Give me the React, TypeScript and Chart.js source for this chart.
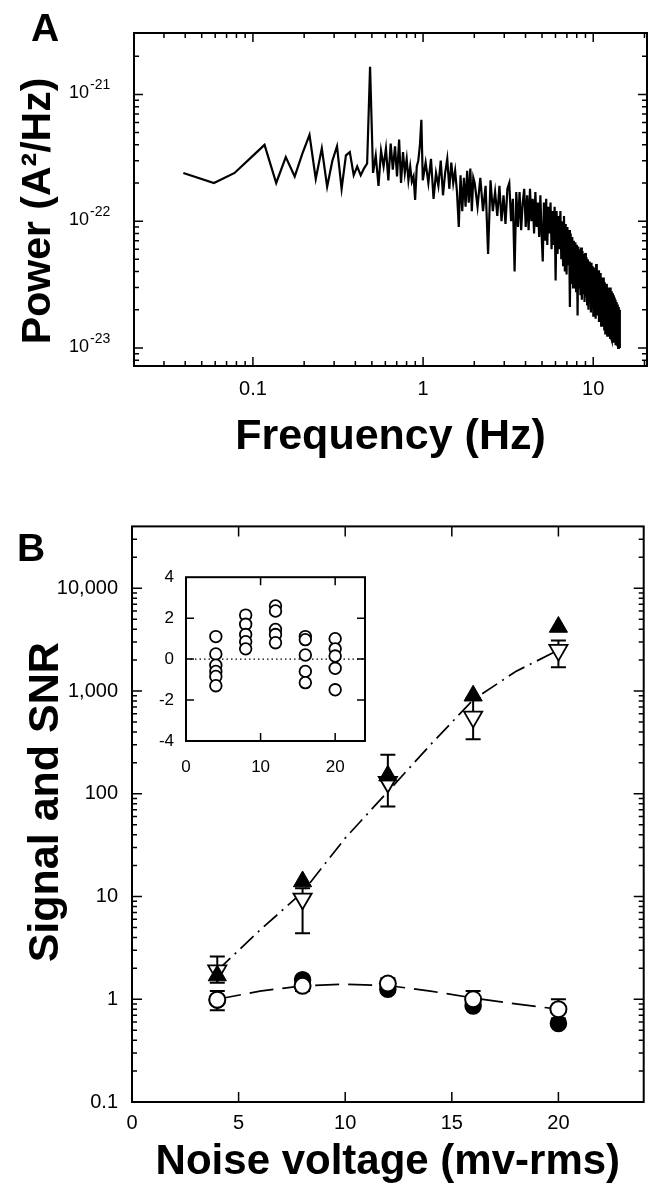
import React, { useEffect, useRef } from 'react';
import { Chart, registerables } from 'chart.js';

Chart.register(...registerables);

const FONT = "'Liberation Sans', Arial, Helvetica, sans-serif";
Chart.defaults.font.family = FONT;
Chart.defaults.color = '#000';

// ---------------- Panel A: power spectrum ----------------
const FREQ_LOW = [
  0.039, 0.059, 0.078, 0.098, 0.117, 0.137, 0.156, 0.176, 0.195, 0.215,
  0.234, 0.254, 0.273, 0.293, 0.312, 0.332, 0.352, 0.371, 0.391, 0.41,
  0.43, 0.449, 0.469, 0.488, 0.508, 0.527, 0.547, 0.566, 0.586, 0.605,
  0.625, 0.645, 0.664, 0.684, 0.703, 0.723, 0.742, 0.762, 0.781, 0.801,
  0.82, 0.84, 0.859, 0.879, 0.898, 0.918, 0.937, 0.957, 0.977, 0.996,
];
const POWER_LOW = [
  24e-23, 20e-23, 24e-23, 32e-23, 40e-23, 20e-23, 32e-23, 22.5e-23, 34e-23, 48e-23,
  21.5e-23, 37.5e-23, 18.7e-23, 30e-23, 39e-23, 18e-23, 33e-23, 35e-23, 23e-23, 27e-23,
  23e-23, 26e-23, 28.5e-23, 165e-23, 24e-23, 33e-23, 19e-23, 36e-23, 27e-23, 37.5e-23,
  21e-23, 41e-23, 25.5e-23, 39e-23, 22.5e-23, 44e-23, 20e-23, 35e-23, 24e-23, 31e-23,
  21e-23, 27e-23, 20.5e-23, 22.5e-23, 14.7e-23, 27e-23, 30e-23, 39e-23, 63e-23, 21e-23,
];
const FREQ_MID = [
  1.035, 1.074, 1.113, 1.152, 1.191, 1.23, 1.27, 1.309, 1.348, 1.387,
  1.426, 1.465, 1.504, 1.543, 1.582, 1.621, 1.66, 1.699, 1.738, 1.777,
  1.816, 1.855, 1.895, 1.934, 1.973,
];
const POWER_MID = [
  29e-23, 20e-23, 31e-23, 15e-23, 24e-23, 19e-23, 30e-23, 16e-23, 24e-23, 31e-23,
  18e-23, 29e-23, 20e-23, 25e-23, 17e-23, 9e-23, 23e-23, 12e-23, 22e-23, 13e-23,
  25e-23, 14e-23, 26e-23, 12e-23, 22e-23,
];
const FREQ_HIGH = [
  2.01, 2.09, 2.17, 2.25, 2.33, 2.41, 2.49, 2.57, 2.65, 2.73,
  2.81, 2.89, 2.97, 3.05, 3.13, 3.21, 3.29, 3.37, 3.45, 3.53,
  3.61, 3.69, 3.77, 3.85, 3.93, 4.01, 4.09, 4.17, 4.25, 4.33,
  4.41, 4.49, 4.57, 4.65, 4.73, 4.81, 4.89, 4.97, 5.05, 5.13,
  5.21, 5.29, 5.37, 5.45, 5.53, 5.61, 5.69, 5.77, 5.85, 5.93,
  6.01, 6.09, 6.17, 6.25, 6.33, 6.41, 6.49, 6.57, 6.65, 6.73,
  6.81, 6.89, 6.97, 7.05, 7.13, 7.21, 7.29, 7.37, 7.45, 7.53,
  7.61, 7.69, 7.77, 7.85, 7.93, 8.01, 8.09, 8.17, 8.25, 8.33,
  8.41, 8.49, 8.57, 8.65, 8.73, 8.81, 8.89, 8.97, 9.05, 9.13,
  9.21, 9.29, 9.37, 9.45, 9.53, 9.61, 9.69, 9.77, 9.85, 9.93,
  10.01, 10.09, 10.17, 10.25, 10.33, 10.41, 10.49, 10.57, 10.65, 10.73,
  10.81, 10.89, 10.97, 11.05, 11.13, 11.21, 11.29, 11.37, 11.45, 11.53,
  11.61, 11.69, 11.77, 11.85, 11.93, 12.01, 12.09, 12.17, 12.25, 12.33,
  12.41, 12.49, 12.57, 12.65, 12.73, 12.81, 12.89, 12.97, 13.05, 13.13,
  13.21, 13.29, 13.37, 13.45, 13.53, 13.61, 13.69, 13.77, 13.85, 13.93,
  14.01, 14.09, 14.17, 14.25, 14.33,
];
const POWER_HIGH = [
  20e-23, 13e-23, 22e-23, 12e-23, 19e-23, 5.5e-23, 21e-23, 12e-23, 17e-23, 11e-23,
  19e-23, 10e-23, 16e-23, 9.5e-23, 18e-23, 20e-23, 10e-23, 15e-23, 4.0e-23, 17e-23,
  9e-23, 17e-23, 8.5e-23, 14e-23, 18e-23, 9e-23, 16e-23, 8.5e-23, 18e-23, 10e-23,
  15e-23, 8e-23, 17e-23, 9e-23, 14e-23, 7.5e-23, 16e-23, 8e-23, 4.8e-23, 14e-23,
  7e-23, 15e-23, 6.5e-23, 13e-23, 8e-23, 14e-23, 6e-23, 12e-23, 6.5e-23, 13e-23,
  3.4e-23, 12e-23, 5.5e-23, 11e-23, 6e-23, 12e-23, 5e-23, 10e-23, 4.5e-23, 11e-23,
  4e-23, 9.5e-23, 3.8e-23, 9e-23, 4.5e-23, 8.5e-23, 2.1e-23, 8e-23, 3.2e-23, 7.5e-23,
  3e-23, 7e-23, 3.2e-23, 6.8e-23, 2.8e-23, 6.5e-23, 1.8e-23, 6.3e-23, 3e-23, 6e-23,
  2.6e-23, 6.2e-23, 2.4e-23, 5.8e-23, 2.7e-23, 5.5e-23, 2.3e-23, 5.6e-23, 2.5e-23, 5.2e-23,
  2.2e-23, 5.0e-23, 2.0e-23, 4.8e-23, 2.3e-23, 4.6e-23, 1.9e-23, 4.7e-23, 2.1e-23, 4.4e-23,
  1.8e-23, 4.3e-23, 2.0e-23, 4.0e-23, 1.7e-23, 4.6e-23, 1.9e-23, 4.0e-23, 1.8e-23, 4.1e-23,
  1.6e-23, 3.8e-23, 1.7e-23, 3.9e-23, 1.5e-23, 3.6e-23, 1.6e-23, 3.5e-23, 1.5e-23, 3.6e-23,
  1.4e-23, 3.3e-23, 1.3e-23, 3.1e-23, 1.4e-23, 3.2e-23, 1.25e-23, 3.0e-23, 1.35e-23, 3.0e-23,
  1.25e-23, 2.9e-23, 1.2e-23, 3.0e-23, 1.2e-23, 2.8e-23, 1.15e-23, 2.7e-23, 1.2e-23, 2.6e-23,
  1.1e-23, 2.5e-23, 1.15e-23, 2.4e-23, 1.05e-23, 2.3e-23, 1.1e-23, 2.2e-23, 1.05e-23, 2.2e-23,
  1.0e-23, 2.1e-23, 1.05e-23, 2.0e-23, 1.0e-23,
];
const A_X_LABEL_AT = [0.1, 1, 10];
const A_X_LABELS = ['0.1', '1', '10'];
const A_Y_LABEL_AT = [1e-23, 1e-22, 1e-21];
const A_Y_BASE = '10';
const A_Y_EXPONENTS = ['-23', '-22', '-21'];

// ---------------- Panel B: signal and SNR ----------------
const NOISE = [4, 8, 12, 16, 20];
const TRI_FILLED = [1.7, 14, 150, 900, 4200];
const TRI_OPEN = [1.9, 9.5, 130, 560, 2500];
const TRI_OPEN_LOW = [1.45, 4.4, 75, 340, 1700];
const TRI_OPEN_HIGH = [2.6, 12, 240, 850, 3100];
const CIRC_OPEN = [0.99, 1.35, 1.42, 1.0, 0.8];
const CIRC_OPEN_LOW = [0.78, 1.2, 1.25, 0.85, 0.65];
const CIRC_OPEN_HIGH = [1.2, 1.5, 1.6, 1.2, 1.0];
const CIRC_FILLED = [0.98, 1.55, 1.25, 0.86, 0.58];
const FIT_TRI_X = [4, 6, 8, 10, 12, 14, 16, 18, 20];
const FIT_TRI_Y = [1.9, 4.7, 11, 37, 105, 300, 820, 1550, 2500];
const FIT_CIRC_X = [4, 6, 8, 10, 12, 14, 16, 18, 20];
const FIT_CIRC_Y = [1.0, 1.2, 1.35, 1.4, 1.36, 1.2, 1.03, 0.9, 0.8];
const B_X_TICKS = [0, 5, 10, 15, 20];
const B_Y_LABEL_AT = [0.1, 1, 10, 100, 1000, 10000];
const B_Y_LABELS = ['0.1', '1', '10', '100', '1,000', '10,000'];

// ---------------- Inset ----------------
const INSET_NOISE = [
  4, 4, 4, 4, 4, 4,
  8, 8, 8, 8, 8,
  12, 12, 12, 12, 12,
  16, 16, 16, 16, 16,
  20, 20, 20, 20, 20,
];
const INSET_VALUES = [
  1.1, 0.25, -0.3, -0.6, -0.85, -1.3,
  2.15, 1.7, 1.2, 0.85, 0.5,
  2.6, 2.35, 1.45, 1.2, 0.8,
  1.1, 0.95, 0.2, -0.6, -1.15,
  1.0, 0.5, 0.15, -0.45, -1.5,
];
const ZERO_X = [0, 24];
const ZERO_Y = [0, 0];
const INSET_X_TICKS = [0, 10, 20];
const INSET_Y_TICKS = [-4, -2, 0, 2, 4];

// ---------------- helpers ----------------
const pts = (xs: number[], ys: number[]) => xs.map((x, i) => ({ x, y: ys[i] }));

function logTicks(min: number, max: number) {
  const out: { value: number; major: boolean }[] = [];
  for (let e = Math.floor(Math.log10(min)); e <= Math.ceil(Math.log10(max)); e++) {
    for (let m = 1; m <= 9; m++) {
      const v = m * Math.pow(10, e);
      if (v >= min * 0.9999 && v <= max * 1.0001) out.push({ value: v, major: m === 1 });
    }
  }
  return out;
}

function logIndex(v: number, at: number[]) {
  for (let i = 0; i < at.length; i++) {
    if (Math.abs(Math.log10(v) - Math.log10(at[i])) < 1e-6) return i;
  }
  return -1;
}

function logLabel(v: number, at: number[], labels: string[]) {
  const i = logIndex(v, at);
  return i >= 0 ? labels[i] : '';
}

function framePlugin(o: { major: number; minor: number; tickWidth: number; frameWidth: number }) {
  return {
    id: 'frameTicks',
    afterDatasetsDraw(chart: any) {
      const { ctx, chartArea: a } = chart;
      const xs = chart.scales.x;
      const ys = chart.scales.y;
      ctx.save();
      ctx.strokeStyle = '#000';
      ctx.lineWidth = o.tickWidth;
      ctx.beginPath();
      for (const t of xs.ticks) {
        const p = xs.getPixelForValue(t.value);
        if (p < a.left + 1.5 || p > a.right - 1.5) continue;
        const len = t.major ? o.major : o.minor;
        ctx.moveTo(p, a.bottom);
        ctx.lineTo(p, a.bottom - len);
        ctx.moveTo(p, a.top);
        ctx.lineTo(p, a.top + len);
      }
      for (const t of ys.ticks) {
        const p = ys.getPixelForValue(t.value);
        if (p < a.top + 1.5 || p > a.bottom - 1.5) continue;
        const len = t.major ? o.major : o.minor;
        ctx.moveTo(a.left, p);
        ctx.lineTo(a.left + len, p);
        ctx.moveTo(a.right, p);
        ctx.lineTo(a.right - len, p);
      }
      ctx.stroke();
      ctx.lineWidth = o.frameWidth;
      ctx.strokeRect(a.left, a.top, a.right - a.left, a.bottom - a.top);
      ctx.restore();
    },
  };
}

// power-of-ten labels with a real superscript exponent, placed at the y scale's ticks
const powerLabelPlugin = {
  id: 'powerLabels',
  afterDraw(chart: any) {
    const { ctx } = chart;
    const ys = chart.scales.y;
    ctx.save();
    ctx.fillStyle = '#000';
    ctx.textAlign = 'left';
    ctx.textBaseline = 'alphabetic';
    for (const t of ys.ticks) {
      const i = logIndex(t.value, A_Y_LABEL_AT);
      if (i < 0) continue;
      const p = ys.getPixelForValue(t.value);
      ctx.font = `18px ${FONT}`;
      const x0 = 69;
      ctx.fillText(A_Y_BASE, x0, p + 4);
      const w = ctx.measureText(A_Y_BASE).width;
      ctx.font = `14px ${FONT}`;
      ctx.fillText(A_Y_EXPONENTS[i], x0 + w + 1, p - 5);
    }
    ctx.restore();
  },
};

function errorBarPlugin(groups: { x: number[]; low: number[]; high: number[] }[], cap: number, width: number) {
  return {
    id: 'errorBars',
    beforeDatasetsDraw(chart: any) {
      const { ctx } = chart;
      const xs = chart.scales.x;
      const ys = chart.scales.y;
      ctx.save();
      ctx.strokeStyle = '#000';
      ctx.lineWidth = width;
      ctx.beginPath();
      for (const g of groups) {
        for (let i = 0; i < g.x.length; i++) {
          const px = xs.getPixelForValue(g.x[i]);
          const lo = ys.getPixelForValue(g.low[i]);
          const hi = ys.getPixelForValue(g.high[i]);
          ctx.moveTo(px, lo);
          ctx.lineTo(px, hi);
          ctx.moveTo(px - cap, lo);
          ctx.lineTo(px + cap, lo);
          ctx.moveTo(px - cap, hi);
          ctx.lineTo(px + cap, hi);
        }
      }
      ctx.stroke();
      ctx.restore();
    },
  };
}

const baseOptions = {
  responsive: false,
  animation: false,
  devicePixelRatio: 1,
  events: [],
};
const noPlugins = { legend: { display: false }, tooltip: { enabled: false } };

function makeA(): any {
  const freq = [...FREQ_LOW, ...FREQ_MID, ...FREQ_HIGH];
  const power = [...POWER_LOW, ...POWER_MID, ...POWER_HIGH];
  return {
    type: 'scatter',
    data: {
      datasets: [
        {
          data: pts(freq, power),
          showLine: true,
          borderColor: '#000',
          borderWidth: 2.2,
          borderJoinStyle: 'miter',
          pointRadius: 0,
          tension: 0,
        },
      ],
    },
    options: {
      ...baseOptions,
      layout: { padding: { left: 0, top: 33, right: 9, bottom: 0 } },
      plugins: noPlugins,
      scales: {
        x: {
          type: 'logarithmic',
          min: 0.02,
          max: 20.7,
          grid: { display: false, drawTicks: false },
          border: { display: false },
          afterBuildTicks: (s: any) => { s.ticks = logTicks(0.02, 20.7); },
          afterFit: (s: any) => { s.height = 104; },
          ticks: {
            autoSkip: false, maxRotation: 0, padding: 11, color: '#000',
            font: { size: 20, family: FONT },
            callback: (v: number) => logLabel(v, A_X_LABEL_AT, A_X_LABELS),
          },
          title: {
            display: true, text: 'Frequency (Hz)', color: '#000',
            font: { size: 43, weight: 'bold', family: FONT, lineHeight: 1 },
            padding: { top: 0, bottom: 11.5 },
          },
        },
        y: {
          type: 'logarithmic',
          min: 7.2e-24,
          max: 3.05e-21,
          grid: { display: false, drawTicks: false },
          border: { display: false },
          afterBuildTicks: (s: any) => { s.ticks = logTicks(7.2e-24, 3.05e-21); },
          afterFit: (s: any) => { s.width = 134; },
          ticks: { display: false, autoSkip: false },
          title: {
            display: true, text: 'Power (A\u00B2/Hz)\u00A0\u00A0', color: '#000',
            font: { size: 41, weight: 'bold', family: FONT, lineHeight: 1 },
            padding: { top: 18, bottom: 0 },
          },
        },
      },
    },
    plugins: [powerLabelPlugin, framePlugin({ major: 9, minor: 5, tickWidth: 1.5, frameWidth: 2 })],
  };
}

function makeB(): any {
  return {
    type: 'scatter',
    data: {
      datasets: [
        {
          label: 'fit (triangles)',
          data: pts(FIT_TRI_X, FIT_TRI_Y),
          showLine: true, borderColor: '#000', borderWidth: 1.7,
          borderDash: [18, 6, 2, 6], pointRadius: 0, tension: 0, order: 6,
        },
        {
          label: 'fit (circles)',
          data: pts(FIT_CIRC_X, FIT_CIRC_Y),
          showLine: true, borderColor: '#000', borderWidth: 1.7,
          borderDash: [24, 9], pointRadius: 0, tension: 0, order: 7,
        },
        {
          label: 'filled circles',
          data: pts(NOISE, CIRC_FILLED),
          pointStyle: 'circle', pointRadius: 8, pointBorderWidth: 1.5,
          pointBackgroundColor: '#000', pointBorderColor: '#000', order: 4,
        },
        {
          label: 'open circles',
          data: pts(NOISE, CIRC_OPEN),
          pointStyle: 'circle', pointRadius: 8, pointBorderWidth: 2,
          pointBackgroundColor: '#fff', pointBorderColor: '#000', order: 3,
        },
        {
          label: 'open triangles',
          data: pts(NOISE, TRI_OPEN),
          pointStyle: 'triangle', pointRotation: 180, pointRadius: 10.5, pointBorderWidth: 1.8,
          pointBackgroundColor: '#fff', pointBorderColor: '#000', order: 2,
        },
        {
          label: 'filled triangles',
          data: pts(NOISE, TRI_FILLED),
          pointStyle: 'triangle', pointRadius: 10.5, pointBorderWidth: 1,
          pointBackgroundColor: '#000', pointBorderColor: '#000', order: 1,
        },
      ],
    },
    options: {
      ...baseOptions,
      layout: { padding: { left: 0, top: 56.4, right: 7, bottom: 0 } },
      plugins: noPlugins,
      scales: {
        x: {
          type: 'linear',
          min: 0,
          max: 24,
          grid: { display: false, drawTicks: false },
          border: { display: false },
          afterBuildTicks: (s: any) => { s.ticks = B_X_TICKS.map((v) => ({ value: v, major: true })); },
          afterFit: (s: any) => { s.height = 83; },
          ticks: {
            autoSkip: false, maxRotation: 0, padding: 9, color: '#000',
            font: { size: 20, family: FONT },
            callback: (v: number) => String(v),
          },
          title: {
            display: true, text: 'Noise voltage (mv-rms)', color: '#000',
            font: { size: 42, weight: 'bold', family: FONT, lineHeight: 1 },
            padding: { top: 0, bottom: 1.5 },
          },
        },
        y: {
          type: 'logarithmic',
          min: 0.1,
          max: 40000,
          grid: { display: false, drawTicks: false },
          border: { display: false },
          afterBuildTicks: (s: any) => { s.ticks = logTicks(0.1, 40000); },
          afterFit: (s: any) => { s.width = 132; },
          ticks: {
            autoSkip: false, padding: 14, color: '#000',
            font: { size: 20, family: FONT },
            callback: (v: number) => logLabel(v, B_Y_LABEL_AT, B_Y_LABELS),
          },
          title: {
            display: true, text: '\u00A0\u00A0Signal and SNR', color: '#000',
            font: { size: 43, weight: 'bold', family: FONT, lineHeight: 1 },
            padding: { top: 24.5, bottom: 0 },
          },
        },
      },
    },
    plugins: [
      errorBarPlugin(
        [
          { x: NOISE, low: TRI_OPEN_LOW, high: TRI_OPEN_HIGH },
          { x: NOISE, low: CIRC_OPEN_LOW, high: CIRC_OPEN_HIGH },
        ],
        7.5,
        2,
      ),
      framePlugin({ major: 10, minor: 5, tickWidth: 1.5, frameWidth: 2 }),
    ],
  };
}

function makeInset(): any {
  return {
    type: 'scatter',
    data: {
      datasets: [
        {
          label: 'zero',
          data: pts(ZERO_X, ZERO_Y),
          showLine: true, borderColor: '#000', borderWidth: 1.2,
          borderDash: [1.5, 3], pointRadius: 0, order: 2,
        },
        {
          label: 'values',
          data: pts(INSET_NOISE, INSET_VALUES),
          pointStyle: 'circle', pointRadius: 5.8, pointBorderWidth: 1.8,
          pointBackgroundColor: '#fff', pointBorderColor: '#000', order: 1,
        },
      ],
    },
    options: {
      ...baseOptions,
      layout: { padding: { left: 0, top: 12, right: 10, bottom: 0 } },
      plugins: noPlugins,
      scales: {
        x: {
          type: 'linear', min: 0, max: 24,
          grid: { display: false, drawTicks: false },
          border: { display: false },
          afterBuildTicks: (s: any) => { s.ticks = INSET_X_TICKS.map((v) => ({ value: v, major: true })); },
          afterFit: (s: any) => { s.height = 44; },
          ticks: {
            autoSkip: false, maxRotation: 0, padding: 16, color: '#000',
            font: { size: 17, family: FONT },
            callback: (v: number) => String(v),
          },
        },
        y: {
          type: 'linear', min: -4, max: 4,
          grid: { display: false, drawTicks: false },
          border: { display: false },
          afterBuildTicks: (s: any) => { s.ticks = INSET_Y_TICKS.map((v) => ({ value: v, major: true })); },
          afterFit: (s: any) => { s.width = 46; },
          ticks: {
            autoSkip: false, padding: 12, color: '#000',
            font: { size: 17, family: FONT },
            callback: (v: number) => String(v),
          },
        },
      },
    },
    plugins: [framePlugin({ major: 8, minor: 4, tickWidth: 1.5, frameWidth: 2 })],
  };
}

function ChartCanvas({ left, top, width, height, make }: { left: number; top: number; width: number; height: number; make: () => any }) {
  const ref = useRef<HTMLCanvasElement | null>(null);
  useEffect(() => {
    if (!ref.current) return;
    const chart = new Chart(ref.current, make());
    return () => chart.destroy();
  }, []);
  return (
    <div style={{ position: 'absolute', left, top, width, height }}>
      <canvas ref={ref} width={width} height={height} style={{ width, height, display: 'block' }} />
    </div>
  );
}

const panelLabel: React.CSSProperties = {
  position: 'absolute',
  font: `bold 39px ${FONT}`,
  lineHeight: '39px',
  color: '#000',
};

export default function App() {
  return (
    <div style={{ position: 'absolute', left: 0, top: 0, width: 656, height: 1185, background: '#fff', overflow: 'hidden' }}>
      <ChartCanvas left={0} top={0} width={656} height={470} make={makeA} />
      <ChartCanvas left={0} top={470} width={656} height={715} make={makeB} />
      <ChartCanvas left={140} top={555} width={235} height={230} make={makeInset} />
      <div style={{ ...panelLabel, left: 31, top: 8 }}>A</div>
      <div style={{ ...panelLabel, left: 17, top: 528 }}>B</div>
    </div>
  );
}
